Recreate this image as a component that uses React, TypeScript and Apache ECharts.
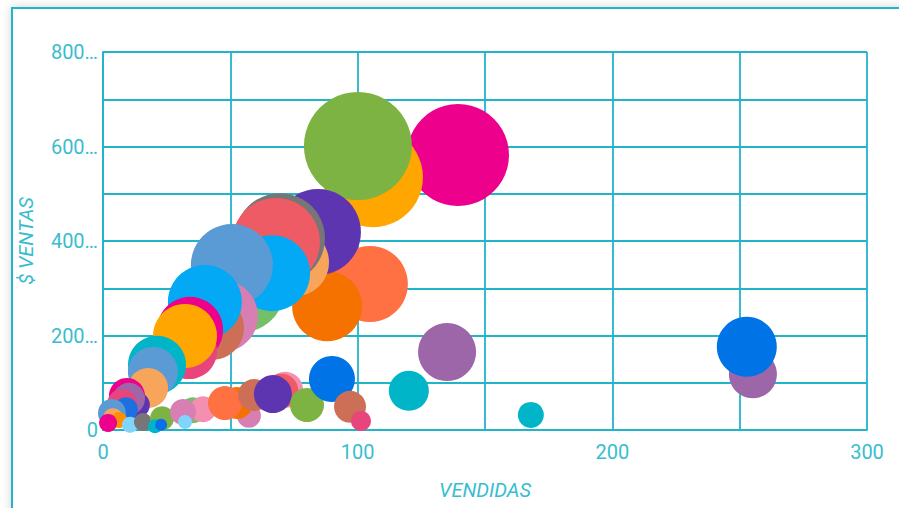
import React, { useEffect, useRef } from "react";
import * as echarts from "echarts";

// Unidades vendidas por producto (eje X)
const vendidas = [
  139.4, 106.0, 100.1,
  104.8, 88.0, 84.4, 75.4, 69.5, 67.9, 54.6, 66.4, 50.6, 46.7, 42.8, 40.0,
  34.2, 33.8, 32.2, 21.2, 19.6, 17.7,
  13.3, 9.4, 10.2, 7.5, 9.0, 3.5, 3.9, 6.3, 2.0, 10.6, 15.7, 23.2, 20.4, 22.8,
  35.3, 39.3, 31.4, 32.2,
  57.3, 52.6, 47.9, 59.3, 71.5, 70.0, 66.7, 80.1, 89.9, 97.0, 101.3,
  120.1, 135.1, 168.0, 255.2, 252.8,
];

// Importe de ventas en $ (eje Y)
const ventas = [
  582, 535, 601,
  309, 262, 419, 355, 406, 398, 296, 332, 349, 241, 216, 271,
  212, 167, 199, 138, 123, 89,
  53, 72, 66, 55, 44, 36, 25, 21, 15, 11, 17, 25, 8, 11,
  42, 44, 38, 17,
  30, 57, 57, 74, 85, 83, 76, 53, 108, 49, 19,
  83, 165, 32, 118, 176,
];

// Peso de cada producto (tamaño de la burbuja)
const pesos = [
  51, 50, 54,
  38, 35, 43, 34, 45, 44, 42, 38, 41, 36, 32, 37,
  33, 28, 32, 29, 25, 20,
  13, 18, 16, 15, 12, 14, 10, 8, 9, 8, 9, 12, 7, 6,
  13, 13, 13, 7,
  12, 16, 17, 16, 18, 17, 19, 17, 23, 16, 10,
  20, 29, 13, 24, 30,
];

const colores = [
  "#ec008c", "#ffa600", "#7cb342",
  "#ff7043", "#f57100", "#5e35b1", "#f6a55b", "#767676", "#ef5b64", "#74c069", "#03a9f4", "#5b9bd5", "#d77fb3", "#cd6f57", "#03a9f4",
  "#ec008c", "#e8457d", "#ffa600", "#00b5c8", "#5b9bd5", "#f6a55b",
  "#5e35b1", "#ec008c", "#9c66a8", "#e8457d", "#1e6fe0", "#5b9bd5", "#f6a55b", "#ff8f00", "#ec008c", "#81d4fa", "#767676", "#7cb342", "#00b5c8", "#0a6fe8",
  "#74c069", "#f48fb1", "#d77fb3", "#81d4fa",
  "#d77fb3", "#f57100", "#ff7043", "#cd6f57", "#f48fb1", "#ef5b64", "#5e35b1", "#7cb342", "#0073e6", "#cd6f57", "#e8457d",
  "#00b5c8", "#9c66a8", "#00b5c8", "#9c66a8", "#0073e6",
];

const TEAL = "#22b4c9";
const LABEL = "#38bdcf";
const FONT = "Roboto, 'Noto Sans', sans-serif";

export default function App() {
  const ref = useRef<HTMLDivElement>(null);

  useEffect(() => {
    if (!ref.current) return;
    const chart = echarts.init(ref.current, undefined, { renderer: "svg" });

    const data = vendidas.map((x, i) => ({
      value: [x, ventas[i], pesos[i]],
      itemStyle: { color: colores[i], opacity: 1 },
    }));

    chart.setOption({
      animation: false,
      backgroundColor: "#ffffff",
      textStyle: { fontFamily: FONT },
      graphic: [
        {
          type: "rect",
          z: -1,
          shape: { x: 12, y: 8, width: 920, height: 540 },
          style: {
            fill: "#ffffff",
            stroke: TEAL,
            lineWidth: 2,
            shadowBlur: 10,
            shadowColor: "rgba(0,0,0,0.18)",
          },
        },
      ],
      grid: { left: 103, right: 32, top: 52, bottom: 78, containLabel: false },
      xAxis: {
        type: "value",
        min: 0,
        max: 300,
        interval: 50,
        name: "VENDIDAS",
        nameLocation: "middle",
        nameGap: 50,
        nameTextStyle: { color: LABEL, fontSize: 20, fontStyle: "italic", fontFamily: FONT },
        axisLine: { show: true, lineStyle: { color: TEAL, width: 1.8 } },
        axisTick: { show: false },
        axisLabel: {
          color: LABEL,
          fontSize: 20,
          fontFamily: FONT,
          margin: 12,
          formatter: (v: number) => (v % 100 === 0 ? String(v) : ""),
        },
        splitLine: { show: true, lineStyle: { color: TEAL, width: 1.8 } },
      },
      yAxis: {
        type: "value",
        min: 0,
        max: 800,
        interval: 100,
        name: "$ VENTAS",
        nameLocation: "middle",
        nameGap: 67,
        nameTextStyle: { color: LABEL, fontSize: 20, fontStyle: "italic", fontFamily: FONT },
        axisLine: { show: true, lineStyle: { color: TEAL, width: 1.8 } },
        axisTick: { show: false },
        axisLabel: {
          color: LABEL,
          fontSize: 20,
          fontFamily: FONT,
          margin: 5,
          formatter: (v: number) => (v === 0 ? "0" : v % 200 === 0 ? v + "…" : ""),
        },
        splitLine: { show: true, lineStyle: { color: TEAL, width: 1.8 } },
      },
      series: [
        {
          type: "scatter",
          data,
          clip: false,
          symbol: "circle",
          symbolSize: (v: number[]) => v[2] * 2,
          emphasis: { disabled: true },
        },
      ],
    });

    return () => chart.dispose();
  }, []);

  return (
    <div
      ref={ref}
      style={{ position: "fixed", left: 0, top: 0, width: 899, height: 508 }}
    />
  );
}
